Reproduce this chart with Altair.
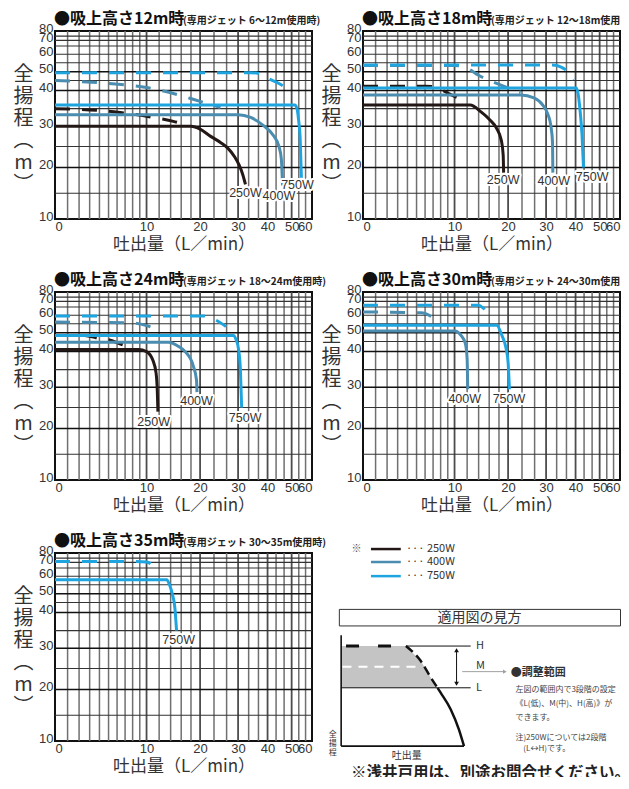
import altair as alt
import pandas as pd

# ---------------- data ----------------
WATTS = ["250W", "400W", "750W"]
COLORS = {"250W": "#231815", "400W": "#4a8db0", "750W": "#1ea5e0"}

X_TICKS = [0, 10, 20, 30, 40, 50, 60]
Y_TICKS = [10, 20, 30, 40, 50, 60, 70, 80]
V_GRID = [1, 2, 3, 4, 5, 6, 7, 8, 9, 10, 12, 14, 16, 18, 20, 23.33, 26.67, 30,
          33.33, 36.67, 40, 43.33, 46.67, 50, 53.33, 56.67]
V_MAJOR = [10, 20, 30, 40, 50]
H_GRID = [15, 20, 25, 30, 35, 40, 45, 50, 55, 60, 65, 70, 75]
H_MAJOR = [20, 30, 40, 50]
# position of each head value on the reference's graph paper (fraction from top)
Y_KNOTS = [10, 15, 20, 25, 30, 35, 40, 45, 50, 55, 60, 65, 70, 75, 80]
Y_KNOT_FRAC = [1.0, 0.863, 0.726, 0.614, 0.507, 0.413, 0.317, 0.263, 0.217,
               0.169, 0.124, 0.080, 0.050, 0.027, 0.0]

TITLES = ["●吸上高さ12m時", "●吸上高さ18m時", "●吸上高さ24m時", "●吸上高さ30m時", "●吸上高さ35m時"]
SUBTITLES = ["(専用ジェット 6～12m使用時)", "(専用ジェット 12～18m使用時)", "(専用ジェット 18～24m使用時)",
             "(専用ジェット 24～30m使用時)", "(専用ジェット 30～35m使用時)"]

# curves: (x list [L/min], y list [m]);  L = solid (low), H = dashed (high)
P12_250_L = ([0, 18, 20, 22.5, 25, 27, 29, 30.3, 31.5, 32.3], [30, 30, 29.3, 27.5, 26, 24.6, 22.5, 20.6, 18.5, 16.7])
P12_250_H = ([0, 4, 7.5, 11, 14.5, 16], [35, 34.5, 33.6, 32.5, 31.4, 30.8])
P12_400_L = ([0, 30, 34, 38, 42.5, 44.5, 45.5, 46], [33.3, 33.3, 32.5, 30.5, 27.5, 25, 22, 16.5])
P12_400_H = ([0, 5, 10, 15, 20, 25], [45, 43.5, 41.5, 39, 37, 35.3])
P12_750_L = ([0, 51.5, 52.5, 53.2, 54, 54.6], [36, 36, 35, 32, 27, 18])
P12_750_H = ([0, 34, 37, 41, 44.5, 49], [49.5, 49.5, 49, 45.6, 43.5, 40])

P18_250_L = ([0, 12.5, 14.5, 16, 17.5, 18.5, 18.9, 19.0], [36, 36, 34, 32, 29.5, 26.5, 23, 19])
P18_250_H = ([0, 6, 7.5, 9, 11.5], [42.2, 42.2, 41.5, 39.3, 37.2])
P18_400_L = ([0, 23, 26.5, 29, 30.5, 31.5, 32, 32.1], [38.8, 38.8, 38, 36, 33.5, 30, 26, 19])
P18_400_H = ([0, 10, 12, 14, 17.5, 21, 23], [53.5, 53.5, 52, 48, 43.5, 40.5, 39.5])
P18_750_L = ([0, 40.3, 41, 41.8, 42.5, 43.1], [41.3, 41.3, 39, 34, 28, 20])
P18_750_H = ([0, 32, 35, 37.5, 39.3], [53.7, 53.7, 52.5, 49.5, 45.5])

P24_250_L = ([0, 8.8, 10, 11, 11.5, 11.7, 11.8], [41, 41, 40, 37.5, 34, 29, 24])
P24_250_H = ([0, 2.5, 4, 5, 6.6, 8], [48.5, 48.5, 46.7, 46, 43.5, 41.8])
P24_400_L = ([0, 13.6, 15.5, 16.8, 18.5, 19.2, 19.3], [44.6, 44.6, 42.5, 40, 36, 32, 28.8])
P24_400_H = ([0, 8, 10, 11.5], [56, 55.5, 54, 52])
P24_750_L = ([0, 28.6, 29.4, 30.1, 30.7, 31.1], [48.5, 48.5, 46, 41.5, 35, 25])
P24_750_H = ([0, 21, 23.5, 26.5], [59.6, 59.6, 57.5, 53.5])

P30_400_L = ([0, 10, 11, 11.7, 12, 12.1], [51, 51, 48.5, 44, 38, 29.5])
P30_400_H = ([0, 5.5, 7.5, 8.2], [62, 61.5, 57, 54.5])
P30_750_L = ([0, 17.5, 18.7, 19.5, 20, 20.3], [54.2, 54.2, 48, 42, 37, 29.5])
P30_750_H = ([0, 14, 15, 16], [66.5, 66.5, 64, 61])

P35_750_L = ([0, 13.3, 13.8, 14.3, 14.8, 15.1], [58, 58, 55, 50, 42, 35])
P35_750_H = ([0, 8.5, 10, 11.2], [71, 71, 70.5, 66.5])

PANEL_SERIES = [
    {"250W": (P12_250_L, P12_250_H), "400W": (P12_400_L, P12_400_H), "750W": (P12_750_L, P12_750_H)},
    {"250W": (P18_250_L, P18_250_H), "400W": (P18_400_L, P18_400_H), "750W": (P18_750_L, P18_750_H)},
    {"250W": (P24_250_L, P24_250_H), "400W": (P24_400_L, P24_400_H), "750W": (P24_750_L, P24_750_H)},
    {"400W": (P30_400_L, P30_400_H), "750W": (P30_750_L, P30_750_H)},
    {"750W": (P35_750_L, P35_750_H)},
]

# curve labels: (text, x, y)
PANEL_LABELS = [
    [("250W", 32.3, 15.0), ("400W", 44.5, 14.4), ("750W", 52.7, 16.6)],
    [("250W", 18.9, 17.6), ("400W", 32.4, 17.3), ("750W", 46.7, 18.2)],
    [("250W", 11.1, 21.5), ("400W", 19.2, 26.6), ("750W", 32.2, 22.6)],
    [("400W", 11.6, 27.0), ("750W", 20.2, 27.0)],
    [("750W", 15.5, 32.4)],
]

# ---------------- explanation diagram (abstract 0-100 coordinates) ----------------
LEGEND_Y = [105.3, 98.4, 90.9]
LEGEND_X = [3.1, 14.7]
AREA_X = [-8.5, 16.7, 22.5, 26.4, 29.0]
AREA_Y = [53.7, 53.7, 45.7, 36.9, 31.5]
AREA_BASE = 31.5
CURVE_DASH_X = [16.7, 22.5, 26.4, 29.0]
CURVE_DASH_Y = [53.7, 45.7, 36.9, 31.5]
CURVE_SOLID_X = [29.0, 30.2, 34.1, 37.3, 39.3]
CURVE_SOLID_Y = [31.5, 28.9, 20.1, 9.4, 0.5]
H_LEVEL, M_LEVEL, L_LEVEL = 53.7, 42.7, 31.5
DIAG_TEXTS = [
    ("※", -2.5, 105.3, 10, "normal", "center", "#555"),
    ("··· 250W", 16.7, 105.3, 11, "normal", "left", "#333"),
    ("··· 400W", 16.7, 98.4, 11, "normal", "left", "#333"),
    ("··· 750W", 16.7, 90.9, 11, "normal", "left", "#333"),
    ("適用図の見方", 45.3, 68.8, 14, "normal", "center", "#333"),
    ("H", 44.0, 53.7, 11, "normal", "left", "#333"),
    ("M", 44.0, 43.2, 11, "normal", "left", "#333"),
    ("L", 44.0, 31.5, 11, "normal", "left", "#333"),
    ("●調整範囲", 57.5, 39.5, 11, "bold", "left", "#333"),
    ("左図の範囲内で3段階の設定", 59.3, 30.3, 8, "normal", "left", "#444"),
    ("《L(低)、M(中)、H(高)》が", 59.3, 22.9, 8, "normal", "left", "#444"),
    ("できます。", 59.3, 15.4, 8, "normal", "left", "#444"),
    ("注)250Wについては2段階", 59.3, 4.8, 8, "normal", "left", "#444"),
    ("(L↔H)です。", 62.4, -1.0, 8, "normal", "left", "#444"),
    ("吐出量", 17.0, -4.8, 10, "normal", "center", "#333"),
    ("※浅井戸用は、別途お問合せください。", -4.7, -13.8, 15.5, "bold", "left", "#222"),
]

# ---------------- chart building ----------------
W, H = 257, 188
JP = "Noto Sans CJK JP"
NUM = "Liberation Sans"


def xscale():
    return alt.Scale(type="symlog", constant=10, domain=[0, 60], nice=False)


def yscale():
    return alt.Scale(type="linear", domain=Y_KNOTS, range=[H * f for f in Y_KNOT_FRAC],
                     nice=False, zero=False)


X_AXIS = alt.Axis(values=X_TICKS, grid=False, ticks=False, domain=False, labelFont=NUM,
                  labelFontSize=13, labelColor="#333", labelPadding=1, labelOverlap=False,
                  labelFlush=True,
                  title="吐出量（L／min）", titleFont=JP, titleFontSize=17,
                  titleFontWeight="normal", titleColor="#333", titlePadding=3)
Y_AXIS = alt.Axis(values=Y_TICKS, grid=False, ticks=False, domain=False, labelFont=NUM,
                  labelFontSize=13, labelColor="#333", labelPadding=2, labelOffset=-3,
                  labelOverlap=False,
                  title=["全", "揚", "程", "︵", "m", "︶"], titleAngle=0, titleFont=JP,
                  titleFontSize=20, titleFontWeight="normal", titleColor="#333",
                  titleLineHeight=22, titleX=-32, titleY=43, titleAlign="center",
                  titleBaseline="middle")


def PX(field="x"):
    return alt.X(field + ":Q", scale=xscale(), axis=X_AXIS)


def PY(field="y"):
    return alt.Y(field + ":Q", scale=yscale(), axis=Y_AXIS)


def panel(k):
    layers = []
    vg = pd.DataFrame({"x": V_GRID})
    vg["major"] = vg["x"].isin(V_MAJOR)
    hg = pd.DataFrame({"y": H_GRID})
    hg["major"] = hg["y"].isin(H_MAJOR)
    layers.append(alt.Chart(vg).mark_rule().encode(
        x=PX(),
        color=alt.condition("datum.major", alt.value("#4d4d4d"), alt.value("#707070")),
        strokeWidth=alt.condition("datum.major", alt.value(1.8), alt.value(1.5))))
    layers.append(alt.Chart(hg).mark_rule().encode(
        y=PY(),
        color=alt.condition("datum.major", alt.value("#111"), alt.value("#333")),
        strokeWidth=alt.condition("datum.major", alt.value(1.5), alt.value(1.1))))

    series = PANEL_SERIES[k]
    for idx, dashed in ((1, True), (0, False)):
        for w in WATTS:
            if w not in series:
                continue
            xs, ys = series[w][idx]
            df = pd.DataFrame({"x": xs, "y": ys})
            mk = dict(color=COLORS[w], strokeWidth=3, interpolate="monotone", strokeCap="butt")
            if dashed:
                mk["strokeDash"] = [15, 12]
            layers.append(alt.Chart(df).mark_line(**mk).encode(x=PX(), y=PY()))

    lab = pd.DataFrame(PANEL_LABELS[k], columns=["t", "x", "y"])
    for halo in (True, False):
        mk = dict(font=NUM, fontSize=12.5, color="#333", baseline="middle", align="center")
        if halo:
            mk.update(stroke="white", strokeWidth=4, strokeJoin="round")
        layers.append(alt.Chart(lab).mark_text(**mk).encode(x=PX(), y=PY(), text="t:N"))

    tt = pd.DataFrame({"x": [0], "y": [80], "t": [TITLES[k]], "s": [SUBTITLES[k]]})
    layers.append(alt.Chart(tt).mark_text(font=JP, fontSize=16, fontWeight="bold", color="#111",
                                          align="left", baseline="alphabetic", dx=-1, dy=-7).encode(
        x=PX(), y=PY(), text="t:N"))
    sub = dict(font=JP, fontSize=10, fontWeight="bold", color="#222",
               align="left", baseline="alphabetic", dx=128, dy=-7)
    if k % 2 == 1:
        sub.update(limit=130, ellipsis="\u200b")
    layers.append(alt.Chart(tt).mark_text(**sub).encode(x=PX(), y=PY(), text="s:N"))
    return alt.layer(*layers).properties(width=W, height=H)


def diagram():
    sx = alt.Scale(domain=[0, 100], nice=False, zero=False)
    sy = alt.Scale(domain=[3.2, 103.2], nice=False, zero=False)

    def X(f="x"):
        return alt.X(f + ":Q", scale=sx, axis=None)

    def Y(f="y"):
        return alt.Y(f + ":Q", scale=sy, axis=None)

    layers = []
    leg = pd.DataFrame({"x": [LEGEND_X[0]] * 3, "x2": [LEGEND_X[1]] * 3, "y": LEGEND_Y, "w": WATTS})
    layers.append(alt.Chart(leg).mark_rule(strokeWidth=2.5).encode(
        x=X(), x2="x2:Q", y=Y(),
        color=alt.Color("w:N", scale=alt.Scale(domain=WATTS, range=[COLORS[w] for w in WATTS]), legend=None)))
    box = pd.DataFrame({"x": [-9.2], "x2": [100.2], "y": [64.4], "y2": [73.2]})
    layers.append(alt.Chart(box).mark_rect(fill="white", stroke="#333", strokeWidth=1).encode(
        x=X(), x2="x2:Q", y=Y(), y2="y2:Q"))
    area = pd.DataFrame({"x": AREA_X, "y": AREA_Y, "y2": [AREA_BASE] * len(AREA_X)})
    layers.append(alt.Chart(area).mark_area(color="#c4c4c4", interpolate="linear").encode(
        x=X(), y=Y(), y2="y2:Q"))
    m = pd.DataFrame({"x": [-8.0, 21.5], "y": [M_LEVEL, M_LEVEL]})
    layers.append(alt.Chart(m).mark_line(color="white", strokeWidth=2, strokeDash=[9, 7]).encode(x=X(), y=Y()))
    hd = pd.DataFrame({"x": [-6.6, 16.0], "y": [H_LEVEL, H_LEVEL]})
    layers.append(alt.Chart(hd).mark_line(color="#111", strokeWidth=3, strokeDash=[13, 19]).encode(x=X(), y=Y()))
    rules = pd.DataFrame({
        "x": [16.7, -8.5, -8.5, -8.5],
        "x2": [41.9, 41.9, -8.5, 39.3],
        "y": [H_LEVEL, L_LEVEL, 0.5, 0.5],
        "y2": [H_LEVEL, L_LEVEL, 59.5, 0.5],
        "w": [1, 1, 1.6, 1.6]})
    layers.append(alt.Chart(rules).mark_rule(color="#111").encode(
        x=X(), x2="x2:Q", y=Y(), y2="y2:Q", strokeWidth=alt.StrokeWidth("w:Q", scale=None)))
    cd = pd.DataFrame({"x": CURVE_DASH_X, "y": CURVE_DASH_Y})
    layers.append(alt.Chart(cd).mark_line(color="#111", strokeWidth=2.5, strokeDash=[9, 5],
                                          interpolate="monotone").encode(x=X(), y=Y()))
    cs = pd.DataFrame({"x": CURVE_SOLID_X, "y": CURVE_SOLID_Y})
    layers.append(alt.Chart(cs).mark_line(color="#111", strokeWidth=2.5, interpolate="monotone").encode(
        x=X(), y=Y()))
    da = pd.DataFrame({"x": [36.4], "y": [H_LEVEL - 1.5], "y2": [L_LEVEL + 1.5]})
    layers.append(alt.Chart(da).mark_rule(color="#111", strokeWidth=1).encode(x=X(), y=Y(), y2="y2:Q"))
    heads = pd.DataFrame({"x": [36.4, 36.4], "y": [H_LEVEL - 2.2, L_LEVEL + 2.2],
                          "s": ["triangle-up", "triangle-down"]})
    layers.append(alt.Chart(heads).mark_point(filled=True, color="#111", size=22, opacity=1).encode(
        x=X(), y=Y(), shape=alt.Shape("s:N", scale=None)))
    ga = pd.DataFrame({"x": [38.6], "x2": [55.0], "y": [40.1]})
    layers.append(alt.Chart(ga).mark_rule(color="#a0a0a0", strokeWidth=1).encode(x=X(), x2="x2:Q", y=Y()))
    gh = pd.DataFrame({"x": [55.2], "y": [40.1]})
    layers.append(alt.Chart(gh).mark_point(shape="triangle-right", filled=True, color="#a0a0a0",
                                           size=18, opacity=1).encode(x=X(), y=Y()))
    for (t, x, y, fs, fw, al, col) in DIAG_TEXTS:
        d = pd.DataFrame({"x": [x], "y": [y], "t": [t]})
        layers.append(alt.Chart(d).mark_text(font=JP, fontSize=fs, fontWeight=fw, align=al,
                                             baseline="middle", color=col).encode(x=X(), y=Y(), text="t:N"))
    vt = pd.DataFrame({"x": [-11.8], "y": [6.4], "t": ["全\n揚\n程"]})
    layers.append(alt.Chart(vt).mark_text(font=JP, fontSize=8, lineBreak="\n", lineHeight=9,
                                          baseline="middle", align="center", color="#333").encode(
        x=X(), y=Y(), text="t:N"))
    return alt.layer(*layers).properties(width=W, height=H, view=alt.ViewBackground(stroke="transparent"))


charts = [panel(k) for k in range(5)] + [diagram()]
chart = alt.concat(*charts, columns=2, spacing={"row": 73, "column": 51}, bounds="flush").properties(
    padding={"left": 4, "top": 2, "right": -10, "bottom": -6}, background="white"
).configure_view(stroke="#111", strokeWidth=2)

chart.save("out.html", embed_options={"renderer": "svg", "actions": False})
